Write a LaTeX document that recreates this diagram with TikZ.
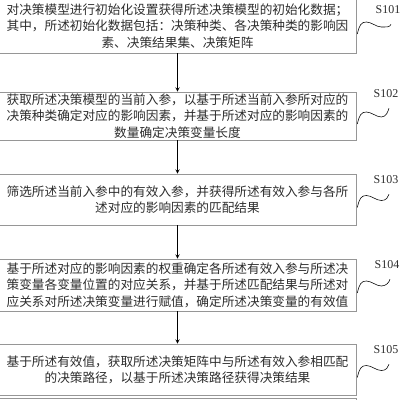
\documentclass[tikz,border=0pt]{standalone}
\usepackage{fontspec}
\setmainfont{Liberation Serif}
\newfontfamily\cjk{Noto Sans CJK SC}
\usetikzlibrary{arrows,arrows.meta}
\usetikzlibrary{calc}
\definecolor{rahmen}{RGB}{150,150,150}
\definecolor{schrift}{RGB}{45,45,45}

\tikzset{
	schritt/.style={draw=rahmen, thin, minimum width=8.925cm, inner sep=0pt, align=center,
		text=schrift, font=\cjk\fontsize{9}{11.6}\selectfont},
	marke/.style={inner sep=0pt, text=schrift, font=\fontsize{8.5}{10}\selectfont},
	pfeil/.style={thin, black, -stealth},
	welle/.style={thin, black}
}

\begin{document}
\begin{tikzpicture}[x=0.025cm, y=-0.025cm]

	\useasboundingbox (0,0) rectangle (400,400);
	\clip (0,0) rectangle (400,400);

	\node[schritt, minimum height=1.35cm] (b1) at (177.5,26) {对决策模型进行初始化设置获得所述决策模型的初始化数据；\\其中，所述初始化数据包括：决策种类、各决策种类的影响因\\素、决策结果集、决策矩阵};
	\node[schritt, minimum height=1.2cm] (b2) at (177.5,116) {获取所述决策模型的当前入参，以基于所述当前入参所对应的\\决策种类确定对应的影响因素，并基于所述对应的影响因素的\\数量确定决策变量长度};
	\node[schritt, minimum height=1.275cm] (b3) at (177.5,199.5) {筛选所述当前入参中的有效入参，并获得所述有效入参与各所\\述对应的影响因素的匹配结果};
	\node[schritt, minimum height=1.3cm] (b4) at (177.5,285) {基于所述对应的影响因素的权重确定各所述有效入参与所述决\\策变量各变量位置的对应关系，并基于所述匹配结果与所述对\\应关系对所述决策变量进行赋值，确定所述决策变量的有效值};
	\node[schritt, minimum height=1.275cm] (b5) at (177.5,369.5) {基于所述有效值，获取所述决策矩阵中与所述有效入参相匹配\\的决策路径，以基于所述决策路径获得决策结果};

	% naechster Schritt, unten abgeschnitten
	\draw[rahmen, thin] (-1,398) rectangle (356,440);

	\node[marke] (m1) at (388,10) {S101};
	\node[marke] (m2) at (386,94) {S102};
	\node[marke] (m3) at (386,180) {S103};
	\node[marke] (m4) at (387,265) {S104};
	\node[marke] (m5) at (386,350) {S105};

	\foreach \i/\j in {1/2,2/3,3/4,4/5}{
		\draw[pfeil] (b\i.south) -- (b\j.north);
	}

	\foreach \i in {1,...,5}{
		\draw[welle] ([shift={(1,8)}]b\i.east) .. controls +(2,-9) and +(-5,0) .. ++(9,-12)
			.. controls +(5,0) and +(-5,0) .. ++(15,5)
			.. controls +(5,0) and +(-1,3) .. ($(m\i.south)+(3,10)$);
	}

\end{tikzpicture}
\end{document}
